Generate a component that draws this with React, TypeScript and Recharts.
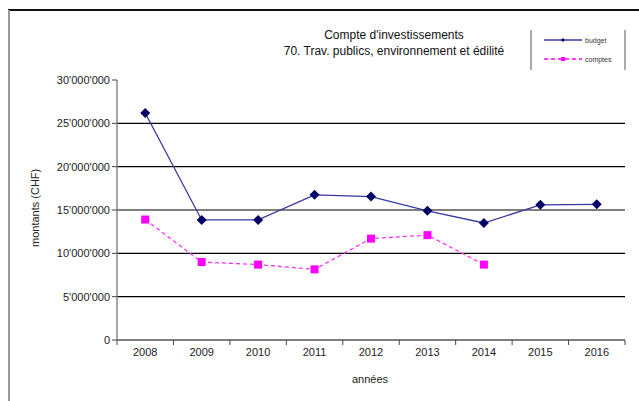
import { LineChart, Line, XAxis, YAxis, CartesianGrid } from "recharts"

const years = ["2008", "2009", "2010", "2011", "2012", "2013", "2014", "2015", "2016"]
const budget = [26200000, 13850000, 13850000, 16750000, 16550000, 14900000, 13500000, 15600000, 15650000]
const comptes = [13900000, 9000000, 8700000, 8150000, 11700000, 12100000, 8700000, null, null]
const yTicks = [0, 5000000, 10000000, 15000000, 20000000, 25000000, 30000000]
const gridValues = [5000000, 10000000, 15000000, 20000000, 25000000]

const data = years.map((y, i) => ({ year: y, budget: budget[i], comptes: comptes[i] }))

const font = "'Liberation Sans', Arial, sans-serif"
const fmt = (v: number) => String(v).replace(/\B(?=(\d{3})+(?!\d))/g, "'")

const XTick = (props: any) => {
  const { x, y, payload, index } = props
  const half = payload && payload.offset ? payload.offset : 28.2
  return (
    <g>
      <line x1={x - half} x2={x - half} y1={y - 8} y2={y - 3} stroke="#444" />
      {index === years.length - 1 && <line x1={x + half} x2={x + half} y1={y - 8} y2={y - 3} stroke="#444" />}
      <text x={x} y={y + 8} textAnchor="middle" fontSize={11} fill="#222" fontFamily={font}>
        {payload.value}
      </text>
    </g>
  )
}

const Diamond = (props: any) => {
  const { cx, cy } = props
  if (cx == null || cy == null) return null
  return <path d={`M${cx},${cy - 5}L${cx + 5},${cy}L${cx},${cy + 5}L${cx - 5},${cy}Z`} fill="#000066" />
}

const Square = (props: any) => {
  const { cx, cy } = props
  if (cx == null || cy == null) return null
  return <rect x={cx - 4} y={cy - 4} width={8} height={8} fill="#ff00ff" />
}

const LegendBox = () => (
  <div style={{ position: "absolute", left: 530, top: 30, width: 92, height: 40, borderLeft: "2px solid #aaa", borderRight: "2px solid #aaa", fontFamily: font }}>
    <svg width={92} height={40} style={{ position: "absolute", left: 0, top: 0 }}>
      <line x1={12} x2={50} y1={10} y2={10} stroke="#3838a0" strokeWidth={1.5} />
      <path d="M31,8L33,10L31,12L29,10Z" fill="#000066" />
      <text x={53} y={12.5} fontSize={7} fill="#333" fontFamily={font}>budget</text>
      <line x1={12} x2={50} y1={29} y2={29} stroke="#ff00ff" strokeWidth={1.5} strokeDasharray="4 3" />
      <rect x={29} y={27} width={4} height={4} fill="#ff00ff" />
      <text x={53} y={31.5} fontSize={7} fill="#333" fontFamily={font}>comptes</text>
    </svg>
  </div>
)

export default function App() {
  return (
    <div style={{ position: "fixed", left: 0, top: 0, width: 639, height: 401, background: "#fff", fontFamily: font }}>
      <div style={{ position: "absolute", left: 8, top: 9, right: 0, height: 2, background: "#111" }} />
      <div style={{ position: "absolute", left: 8, top: 10, bottom: 0, width: 2, background: "#999" }} />
      <div style={{ position: "absolute", left: 244, width: 300, top: 27, textAlign: "center", fontSize: 12, lineHeight: "16px", color: "#111" }}>
        Compte d'investissements
        <br />
        70. Trav. publics, environnement et édilité
      </div>
      <div style={{ position: "absolute", left: 0, top: 212, width: 70, transform: "translate(0px,-50%) rotate(-90deg)", textAlign: "center", fontSize: 11, color: "#222", whiteSpace: "nowrap" }}>
        montants (CHF)
      </div>
      <div style={{ position: "absolute", left: 320, width: 100, top: 373, textAlign: "center", fontSize: 11, color: "#222" }}>années</div>
      <LegendBox />
      <LineChart width={639} height={401} data={data} margin={{ top: 80, right: 14, bottom: 41, left: 57 }} style={{ position: "absolute", left: 0, top: 0 }}>
        <CartesianGrid vertical={false} horizontalValues={gridValues} stroke="#000" strokeWidth={1.2} />
        <XAxis dataKey="year" scale="band" height={20} axisLine={{ stroke: "#555", strokeWidth: 1.5 }} tickLine={false} tick={<XTick />} interval={0} />
        <YAxis
          domain={[0, 30000000]}
          ticks={yTicks}
          width={60}
          tickFormatter={fmt}
          axisLine={{ stroke: "#888", strokeWidth: 1.5 }}
          tickLine={{ stroke: "#444" }}
          tickSize={5}
          tick={{ fontSize: 11, fill: "#222", fontFamily: font }}
        />
        <YAxis yAxisId="r" orientation="right" width={0} tick={false} tickLine={false} axisLine={{ stroke: "#aaa", strokeWidth: 2 }} />
        <Line dataKey="budget" stroke="#3838a0" strokeWidth={1.3} dot={<Diamond />} isAnimationActive={false} />
        <Line dataKey="comptes" stroke="#ff33ff" strokeWidth={1.3} strokeDasharray="4 3" dot={<Square />} isAnimationActive={false} />
      </LineChart>
    </div>
  )
}
